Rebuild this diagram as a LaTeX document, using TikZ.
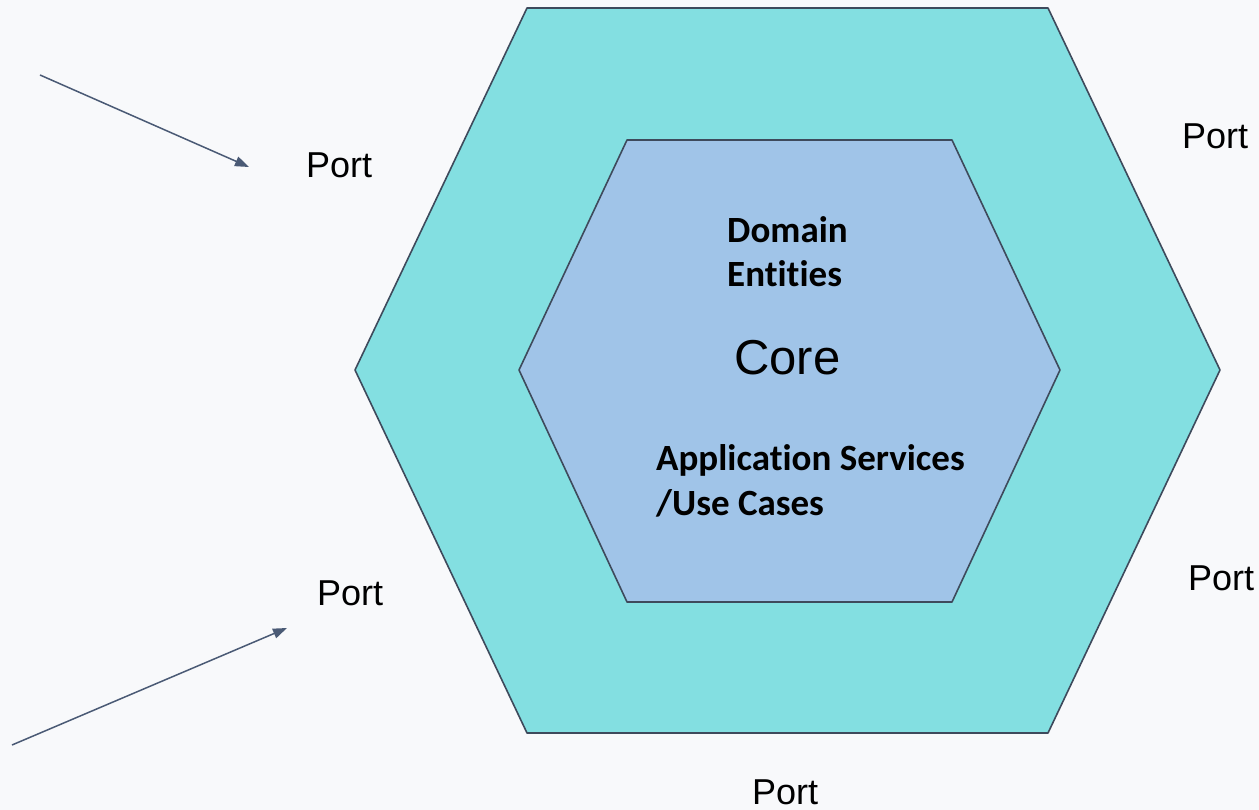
\documentclass[tikz,border=0pt]{standalone}
\usepackage{fontspec}
\setmainfont{Liberation Sans}
\newfontfamily\calibrib{Carlito}[BoldFont=* Bold, Ligatures={NoCommon}]
\usetikzlibrary{arrows.meta}
\definecolor{bgcol}{HTML}{F8F9FB}
\definecolor{outerfill}{HTML}{83DFE1}
\definecolor{innerfill}{HTML}{A0C4E8}
\definecolor{edgecol}{HTML}{3E4A5C}
\definecolor{arrowcol}{HTML}{4A5A75}
\tikzset{
  hexring/.style={draw=edgecol, line width=1.6pt, line join=round},
  portlbl/.style={anchor=base west, inner sep=0pt, font=\fontsize{36}{40}\selectfont},
  corelbl/.style={anchor=base west, inner sep=0pt, font=\fontsize{49}{54}\selectfont},
  boldlbl/.style={anchor=base west, inner sep=0pt, align=left,
    font=\calibrib\bfseries\fontsize{37}{44.5}\selectfont},
  inflow/.style={draw=arrowcol, line width=1.5pt,
    -{Triangle[length=14pt,width=10pt]}},
}
\begin{document}
\begin{tikzpicture}[x=1pt,y=-1pt]
  \fill[bgcol] (0,0) rectangle (1259,810);
  \useasboundingbox (0,0) rectangle (1259,810);

  % outer hexagon (adapters ring)
  \path[hexring, fill=outerfill]
    (527,8) -- (1048,8) -- (1220,370) -- (1048,733) -- (527,733) -- (355,370) -- cycle;
  % inner hexagon (core)
  \path[hexring, fill=innerfill]
    (627,140) -- (952,140) -- (1060,370) -- (952,602) -- (627,602) -- (519,370) -- cycle;

  % core labels (base anchor sits on the last line)
  \node[boldlbl] (dom) at (727,287) {Domain\\Entities};
  \node[corelbl] (core) at (734,375) {Core};
  \node[boldlbl] (app) at (656,515) {Application Services\\/Use Cases};

  % port labels
  \node[portlbl] (p1) at (306,178) {Port};
  \node[portlbl] (p2) at (317,605) {Port};
  \node[portlbl] (p3) at (1182,149) {Port};
  \node[portlbl] (p4) at (1188,590) {Port};
  \node[portlbl] (p5) at (752,804) {Port};

  % incoming connectors
  \coordinate (s1) at (40,75);
  \coordinate (e1) at (249,167);
  \coordinate (s2) at (12,745);
  \coordinate (e2) at (287,628);
  \draw[inflow] (s1) -- (e1);
  \draw[inflow] (s2) -- (e2);
\end{tikzpicture}
\end{document}
